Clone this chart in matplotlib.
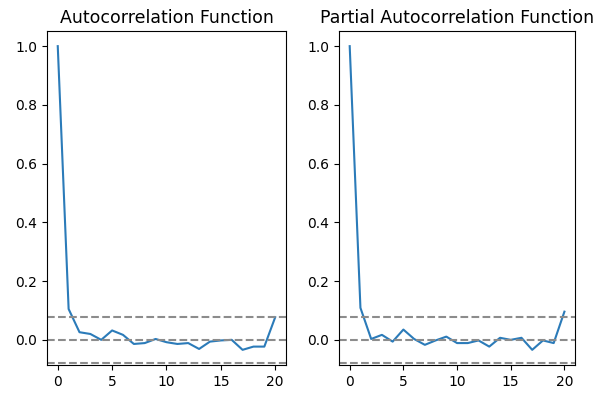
import matplotlib
matplotlib.use("Agg")
import matplotlib.pyplot as plt
import numpy as np

lags = list(range(21))
acf_values = [1.0, 0.105, 0.026, 0.020, 0.0, 0.032, 0.017, -0.014, -0.011, 0.003,
              -0.008, -0.014, -0.011, -0.031, -0.006, -0.002, 0.0, -0.034, -0.023, -0.023, 0.077]
pacf_values = [1.0, 0.109, 0.003, 0.017, -0.006, 0.035, 0.003, -0.017, -0.002, 0.011,
               -0.011, -0.011, -0.002, -0.023, 0.007, 0.0, 0.007, -0.034, -0.002, -0.011, 0.096]
conf_bound = 0.078
titles = ["Autocorrelation Function", "Partial Autocorrelation Function"]

fig = plt.figure(figsize=(6.01, 3.93), dpi=100)
ax1 = fig.add_axes([0.078, 0.0712, 0.398, 0.850])
ax2 = fig.add_axes([0.564, 0.0712, 0.393, 0.850])

for ax, vals, title in zip([ax1, ax2], [acf_values, pacf_values], titles):
    ax.plot(lags, vals, color="#2b7bb9")
    ax.axhline(y=0, linestyle="--", color="#8c8c8c")
    ax.axhline(y=-conf_bound, linestyle="--", color="#8c8c8c")
    ax.axhline(y=conf_bound, linestyle="--", color="#8c8c8c")
    ax.set_title(title, fontsize=12.5)
    ax.set_xticks([0, 5, 10, 15, 20])
    ax.set_yticks([0.0, 0.2, 0.4, 0.6, 0.8, 1.0])

fig.savefig("out.png", dpi=100)
